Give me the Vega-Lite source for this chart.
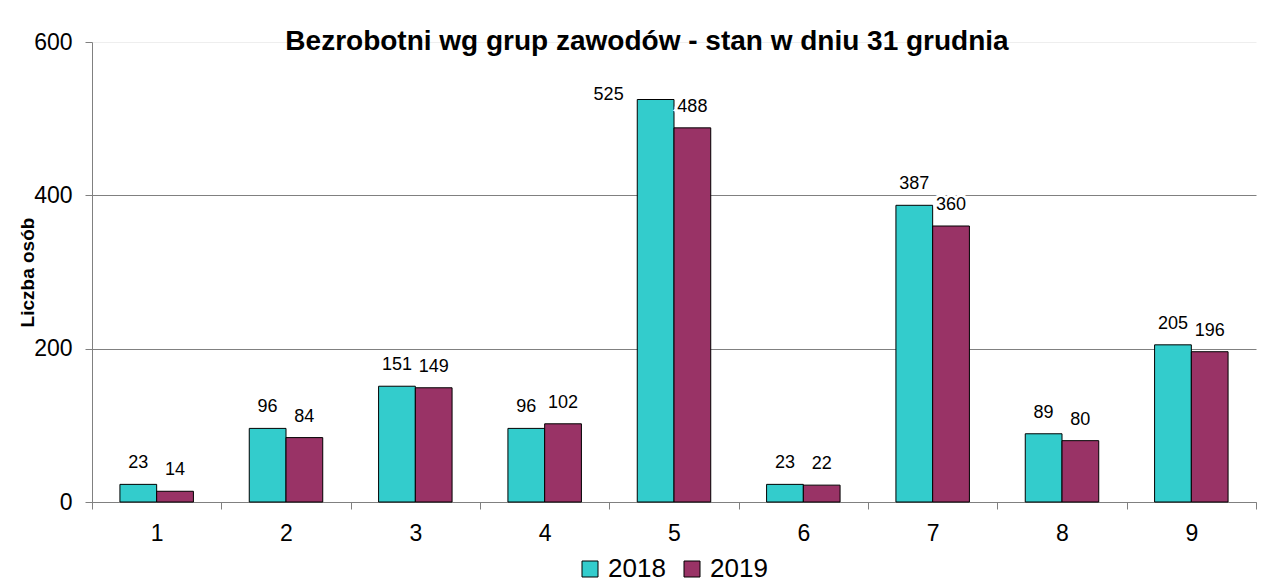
{
  "$schema": "https://vega.github.io/schema/vega-lite/v6.json",
  "width": 1164,
  "height": 460,
  "autosize": {"type": "none"},
  "padding": {"left": 92, "top": 42, "right": 9, "bottom": 81},
  "background": "white",
  "config": {"font": "Liberation Sans", "view": {"stroke": null}},
  "title": {
    "text": "Bezrobotni wg grup zawodów - stan w dniu 31 grudnia",
    "fontSize": 28,
    "fontWeight": "bold",
    "color": "black",
    "anchor": "middle",
    "dx": -27,
    "dy": 37,
    "offset": -10,
    "baseline": "alphabetic"
  },
  "data": {
    "values": [
      {"group": "1", "year": "2018", "value": 23},
      {"group": "1", "year": "2019", "value": 14},
      {"group": "2", "year": "2018", "value": 96},
      {"group": "2", "year": "2019", "value": 84},
      {"group": "3", "year": "2018", "value": 151},
      {"group": "3", "year": "2019", "value": 149},
      {"group": "4", "year": "2018", "value": 96},
      {"group": "4", "year": "2019", "value": 102},
      {"group": "5", "year": "2018", "value": 525},
      {"group": "5", "year": "2019", "value": 488},
      {"group": "6", "year": "2018", "value": 23},
      {"group": "6", "year": "2019", "value": 22},
      {"group": "7", "year": "2018", "value": 387},
      {"group": "7", "year": "2019", "value": 360},
      {"group": "8", "year": "2018", "value": 89},
      {"group": "8", "year": "2019", "value": 80},
      {"group": "9", "year": "2018", "value": 205},
      {"group": "9", "year": "2019", "value": 196}
    ]
  },
  "encoding": {
    "x": {
      "field": "group",
      "type": "ordinal",
      "scale": {"paddingInner": 0, "paddingOuter": 0},
      "axis": {
        "title": null,
        "labelAngle": 0,
        "tickBand": "extent",
        "tickSize": 7,
        "labelFontSize": 23,
        "labelColor": "black",
        "labelPadding": 13,
        "domainColor": "#808080",
        "tickColor": "#808080",
        "grid": false
      }
    },
    "xOffset": {"field": "year", "type": "nominal", "scale": {"paddingInner": 0, "paddingOuter": 0.76}},
    "y": {
      "field": "value",
      "type": "quantitative",
      "scale": {"domain": [0, 600], "nice": false},
      "axis": {
        "values": [0, 200, 400, 600],
        "title": "Liczba osób",
        "titleFontSize": 19,
        "titleFontWeight": "bold",
        "titleColor": "black",
        "titleAngle": -90,
        "titleX": -65,
        "titleY": 230,
        "titleAlign": "center",
        "titleBaseline": "middle",
        "tickSize": 7,
        "labelFontSize": 23,
        "labelColor": "black",
        "labelPadding": 13,
        "domainColor": "#808080",
        "tickColor": "#808080",
        "grid": true,
        "gridColor": {"condition": {"test": "datum.value === 600", "value": "#eeeeee"}, "value": "#808080"},
        "gridOpacity": 1
      }
    }
  },
  "layer": [
    {
      "mark": {"type": "bar", "stroke": "black", "strokeWidth": 1},
      "encoding": {
        "color": {
          "field": "year",
          "type": "nominal",
          "scale": {"domain": ["2018", "2019"], "range": ["#33CCCC", "#993366"]},
          "legend": {
            "orient": "none",
            "legendX": 485,
            "legendY": 514,
            "direction": "horizontal",
            "title": null,
            "padding": 0,
            "symbolType": "square",
            "symbolSize": 256,
            "symbolStrokeColor": "black",
            "symbolStrokeWidth": 1,
            "symbolOpacity": 1,
            "labelFontSize": 26,
            "labelColor": "black",
            "labelOffset": 5,
            "columnPadding": 13
          }
        }
      }
    },
    {
      "transform": [{"filter": "!(datum.group === '5' && datum.year === '2018')"}],
      "mark": {"type": "text", "baseline": "alphabetic", "dy": -16, "fontSize": 18, "fill": "white", "stroke": "white", "strokeWidth": 6},
      "encoding": {"text": {"field": "value", "type": "quantitative"}}
    },
    {
      "transform": [{"filter": "!(datum.group === '5' && datum.year === '2018')"}],
      "mark": {"type": "text", "baseline": "alphabetic", "dy": -16, "fontSize": 18, "color": "black"},
      "encoding": {"text": {"field": "value", "type": "quantitative"}}
    },
    {
      "transform": [{"filter": "datum.group === '5' && datum.year === '2018'"}],
      "mark": {"type": "text", "baseline": "alphabetic", "dy": 0, "dx": -47, "fontSize": 18, "color": "black"},
      "encoding": {"text": {"field": "value", "type": "quantitative"}}
    }
  ]
}
